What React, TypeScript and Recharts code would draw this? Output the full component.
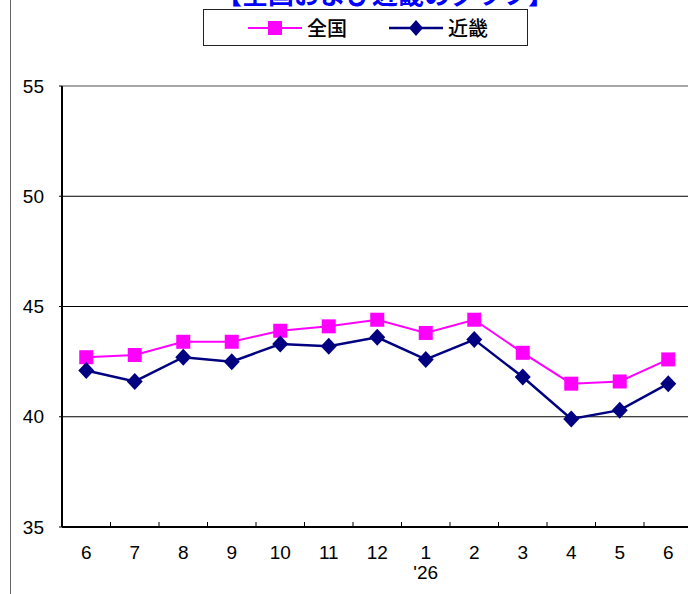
import React from 'react';
import {
  LineChart,
  Line,
  XAxis,
  YAxis,
  CartesianGrid,
  ReferenceLine,
} from 'recharts';

const months = ['6', '7', '8', '9', '10', '11', '12', '1', '2', '3', '4', '5', '6'];
const years = ['', '', '', '', '', '', '', "'26", '', '', '', '', ''];
const zenkoku = [42.7, 42.8, 43.4, 43.4, 43.9, 44.1, 44.4, 43.8, 44.4, 42.9, 41.5, 41.6, 42.6];
const kinki = [42.1, 41.6, 42.7, 42.5, 43.3, 43.2, 43.6, 42.6, 43.5, 41.8, 39.9, 40.3, 41.5];
const yTicks = [35, 40, 45, 50, 55];

const data = months.map((m, i) => ({ idx: i, zenkoku: zenkoku[i], kinki: kinki[i] }));

const PINK = '#FF00FF';
const NAVY = '#000080';
const NUM_FONT = '"Liberation Sans", Arial, sans-serif';
const JP_FONT = '"Noto Sans CJK JP", sans-serif';
const HALF_BAND = 24.25;

const SquareDot = (props: any) => {
  const { cx, cy } = props;
  if (cx == null || cy == null) return null;
  return <rect x={cx - 7} y={cy - 7} width={14} height={14} fill={PINK} />;
};

const DiamondDot = (props: any) => {
  const { cx, cy } = props;
  if (cx == null || cy == null) return null;
  return (
    <polygon
      points={`${cx},${cy - 8.5} ${cx + 8},${cy} ${cx},${cy + 8.5} ${cx - 8},${cy}`}
      fill={NAVY}
    />
  );
};

const MonthTick = (props: any) => {
  const { x, y, payload, index } = props;
  const i = payload.value;
  return (
    <g>
      {index > 0 && (
        <line x1={x - HALF_BAND} y1={y} x2={x - HALF_BAND} y2={y - 5} stroke="#000" strokeWidth={1} />
      )}
      <text x={x} y={y + 32} textAnchor="middle" fontSize={19} fontFamily={NUM_FONT} fill="#000">
        {months[i]}
      </text>
      {years[i] && (
        <text x={x} y={y + 52} textAnchor="middle" fontSize={19} fontFamily={NUM_FONT} fill="#000">
          {years[i]}
        </text>
      )}
    </g>
  );
};

const LegendBox = () => (
  <div
    style={{
      position: 'absolute',
      left: 203,
      top: 9,
      width: 325,
      height: 37,
      border: '1px solid #222',
      boxSizing: 'border-box',
      display: 'flex',
      alignItems: 'center',
      fontFamily: JP_FONT,
      fontSize: 20,
      fontWeight: 500,
      color: '#000',
      background: '#fff',
    }}
  >
    <svg width={54} height={20} style={{ marginLeft: 44 }}>
      <line x1={0} y1={10} x2={54} y2={10} stroke={PINK} strokeWidth={2} />
      <rect x={20} y={3} width={14} height={14} fill={PINK} />
    </svg>
    <span style={{ marginLeft: 5 }}>全国</span>
    <svg width={54} height={20} style={{ marginLeft: 42 }}>
      <line x1={0} y1={10} x2={54} y2={10} stroke={NAVY} strokeWidth={2.5} />
      <polygon points="27,2 34,10 27,18 20,10" fill={NAVY} />
    </svg>
    <span style={{ marginLeft: 5 }}>近畿</span>
  </div>
);

export default function App() {
  return (
    <div
      style={{
        position: 'fixed',
        left: 0,
        top: 0,
        width: 688,
        height: 594,
        overflow: 'hidden',
        background: '#fff',
      }}
    >
      <div
        style={{
          position: 'absolute',
          left: 10,
          top: 0,
          width: 1,
          height: 594,
          background: '#666',
        }}
      />
      <div
        style={{
          position: 'absolute',
          left: 216,
          top: -20,
          width: 330,
          fontFamily: JP_FONT,
          fontWeight: 'bold',
          fontSize: 26,
          lineHeight: '26px',
          color: '#0000FF',
          whiteSpace: 'nowrap',
        }}
      >
        【全国および近畿のグラフ】
      </div>
      <LineChart
        width={700}
        height={594}
        data={data}
        margin={{ top: 86, right: 7.5, left: 12, bottom: 0 }}
      >
        <CartesianGrid
          vertical={false}
          horizontalValues={[40, 45, 50]}
          stroke="#000"
          strokeWidth={1}
        />
        <ReferenceLine y={55} stroke="#888" strokeWidth={1.5} />
        <XAxis
          dataKey="idx"
          type="category"
          height={67}
          padding={{ left: HALF_BAND, right: HALF_BAND }}
          axisLine={{ stroke: '#000', strokeWidth: 2 }}
          tickLine={false}
          tickSize={0}
          tickMargin={0}
          interval={0}
          tick={<MonthTick />}
        />
        <YAxis
          width={50}
          domain={[35, 55]}
          ticks={yTicks}
          interval={0}
          axisLine={{ stroke: '#000', strokeWidth: 2 }}
          tickLine={{ stroke: '#000' }}
          tickSize={3}
          tickMargin={15}
          tick={{ fontSize: 19, fontFamily: NUM_FONT, fill: '#000' }}
        />
        <Line
          dataKey="zenkoku"
          name="全国"
          stroke={PINK}
          strokeWidth={2}
          dot={<SquareDot />}
          activeDot={false}
          isAnimationActive={false}
        />
        <Line
          dataKey="kinki"
          name="近畿"
          stroke={NAVY}
          strokeWidth={2.5}
          dot={<DiamondDot />}
          activeDot={false}
          isAnimationActive={false}
        />
      </LineChart>
      <LegendBox />
    </div>
  );
}
